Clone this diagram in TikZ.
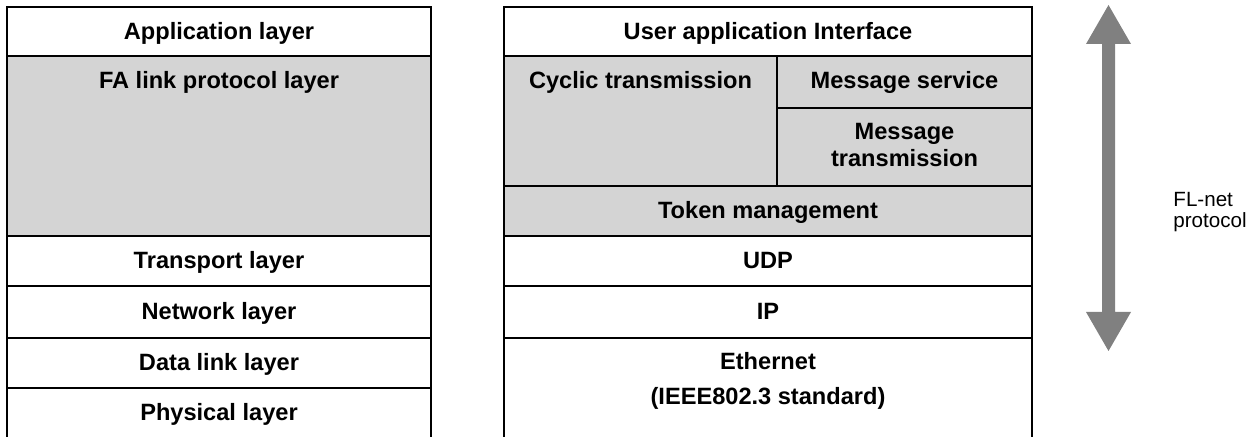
\documentclass[tikz,border=0pt]{standalone}
\usepackage{fontspec}
\setmainfont{Liberation Sans}
\usetikzlibrary{calc}
\tikzset{
	lbl/.style={font=\bfseries\fontsize{11.8}{13.5}\selectfont, align=center, anchor=base, inner sep=0pt},
	frame/.style={line width=1pt, color=black},
}

\begin{document}
\begin{tikzpicture}[x=0.5pt, y=-0.5pt]
			%%%%% START %%%%%
			\useasboundingbox (0, 0) rectangle (1258, 437);
			
			\fill[black!17] (7, 56) rectangle (431, 236);
			\fill[black!17] (504, 56) rectangle (1032, 236);
			
			\draw[frame] (7, 437) -- (7, 7) -- (431, 7) -- (431, 437);
			\foreach \y in {56, 236, 286, 338, 388}
				\draw[frame] (7, \y) -- (431, \y);
			
			\draw[frame] (504, 437) -- (504, 7) -- (1032, 7) -- (1032, 437);
			\foreach \y in {56, 186, 236, 286, 338}
				\draw[frame] (504, \y) -- (1032, \y);
			\draw[frame] (777, 56) -- (777, 186);
			\draw[frame] (777, 108) -- (1032, 108);
			
			\node[lbl] (app) at (219, 39.5) {Application layer};
			\node[lbl] (falink) at (219, 89) {FA link protocol layer};
			\node[lbl] (transport) at (219, 269) {Transport layer};
			\node[lbl] (network) at (219, 320) {Network layer};
			\node[lbl] (datalink) at (219, 371) {Data link layer};
			\node[lbl] (physical) at (219, 420.5) {Physical layer};
			
			\node[lbl] (uai) at (768, 39.5) {User application Interface};
			\node[lbl] (cyclic) at (640.5, 89) {Cyclic transmission};
			\node[lbl] (msgsrv) at (904.5, 89) {Message service};
			\node[lbl] (msgtx) at (904.5, 167) {Message\\transmission};
			\node[lbl] (token) at (768, 218.5) {Token management};
			\node[lbl] (udp) at (768, 269) {UDP};
			\node[lbl] (ip) at (768, 320) {IP};
			\node[lbl] (ether) at (768, 405) {Ethernet\\[4pt](IEEE802.3 standard)};
			
			\fill[black!50] (1108.5, 5) -- (1131, 44) -- (1115, 44) -- (1115, 312) -- (1131, 312)
				-- (1108.5, 351) -- (1086, 312) -- (1102, 312) -- (1102, 44) -- (1086, 44) -- cycle;
			\node[font=\fontsize{10.3}{10.3}\selectfont, align=left, anchor=west, inner sep=0pt] (flnet) at (1173, 212) {FL-net\\protocol};
			%%%%% END %%%%%
\end{tikzpicture}
\end{document}
